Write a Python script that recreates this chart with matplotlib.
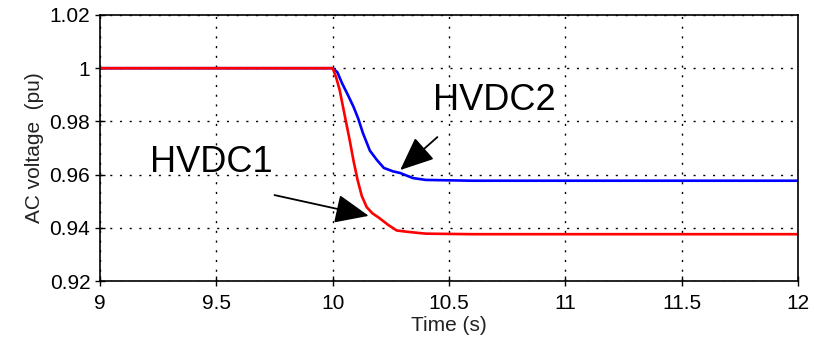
import matplotlib
matplotlib.use('Agg')
import matplotlib.pyplot as plt

plt.rcParams['font.family'] = ['Liberation Sans', 'DejaVu Sans']

# time points (s) and AC voltage (pu)
t_hvdc1 = [9.0, 10.0, 10.015, 10.03, 10.05, 10.073, 10.09, 10.107, 10.125, 10.146,
           10.17, 10.2, 10.24, 10.275, 10.32, 10.4, 10.6, 11.0, 11.5, 12.0]
v_hvdc1 = [1.0, 1.0, 0.9965, 0.9918, 0.983, 0.973, 0.965, 0.958, 0.952, 0.9478,
           0.9455, 0.9437, 0.941, 0.939, 0.9385, 0.9378, 0.9376, 0.9376, 0.9376, 0.9376]

t_hvdc2 = [9.0, 10.0, 10.02, 10.04, 10.065, 10.09, 10.11, 10.13, 10.16, 10.19,
           10.22, 10.26, 10.29, 10.345, 10.4, 10.6, 11.0, 11.5, 12.0]
v_hvdc2 = [1.0, 1.0, 0.9985, 0.9944, 0.990, 0.9854, 0.981, 0.9756, 0.969, 0.9655,
           0.9625, 0.9612, 0.9606, 0.9587, 0.958, 0.9577, 0.9577, 0.9577, 0.9577]

x_ticks = [9, 9.5, 10, 10.5, 11, 11.5, 12]
x_labels = ['9', '9.5', '10', '10.5', '11', '11.5', '12']
y_ticks = [0.92, 0.94, 0.96, 0.98, 1.0, 1.02]
y_labels = ['0.92', '0.94', '0.96', '0.98', '1', '1.02']

fig = plt.figure(figsize=(8.14, 3.51), dpi=100)
ax = fig.add_axes([0.1229, 0.1994, 0.8574, 0.7579])

ax.plot(t_hvdc2, v_hvdc2, color='#0000ff', lw=1.9)
ax.plot(t_hvdc1, v_hvdc1, color='#ff0000', lw=1.9)

ax.set_xlim(9, 12)
ax.set_ylim(0.92, 1.02)
ax.set_xticks(x_ticks)
ax.set_xticklabels(x_labels)
ax.set_yticks(y_ticks)
ax.set_yticklabels(y_labels)
ax.tick_params(direction='inout', length=7, width=1, labelsize=15, colors='black')
ax.tick_params(axis='x', pad=6)
ax.grid(True, color='black', linestyle=(0, (1.5, 5.5)), linewidth=1.0)
for s in ax.spines.values():
    s.set_linewidth(1.2)

ax.set_xlabel('Time (s)', fontsize=15, color='#222222', labelpad=2)
ax.set_ylabel('AC voltage  (pu)', fontsize=15, color='#222222', labelpad=4)

# labels with arrows
arrow = dict(arrowstyle='-|>,head_length=0.7,head_width=0.3', color='black', lw=1.3,
             mutation_scale=30, shrinkA=0, shrinkB=0)
ax.text(10.43, 0.988, 'HVDC2', fontsize=26, va='center', ha='left')
ax.annotate('', xy=(10.29, 0.9617), xytext=(10.45, 0.9741), arrowprops=arrow)
ax.text(9.215, 0.9644, 'HVDC1', fontsize=26, va='center', ha='left')
ax.annotate('', xy=(10.155, 0.9445), xytext=(9.75, 0.9523), arrowprops=arrow)

fig.savefig('out.png', dpi=100)
